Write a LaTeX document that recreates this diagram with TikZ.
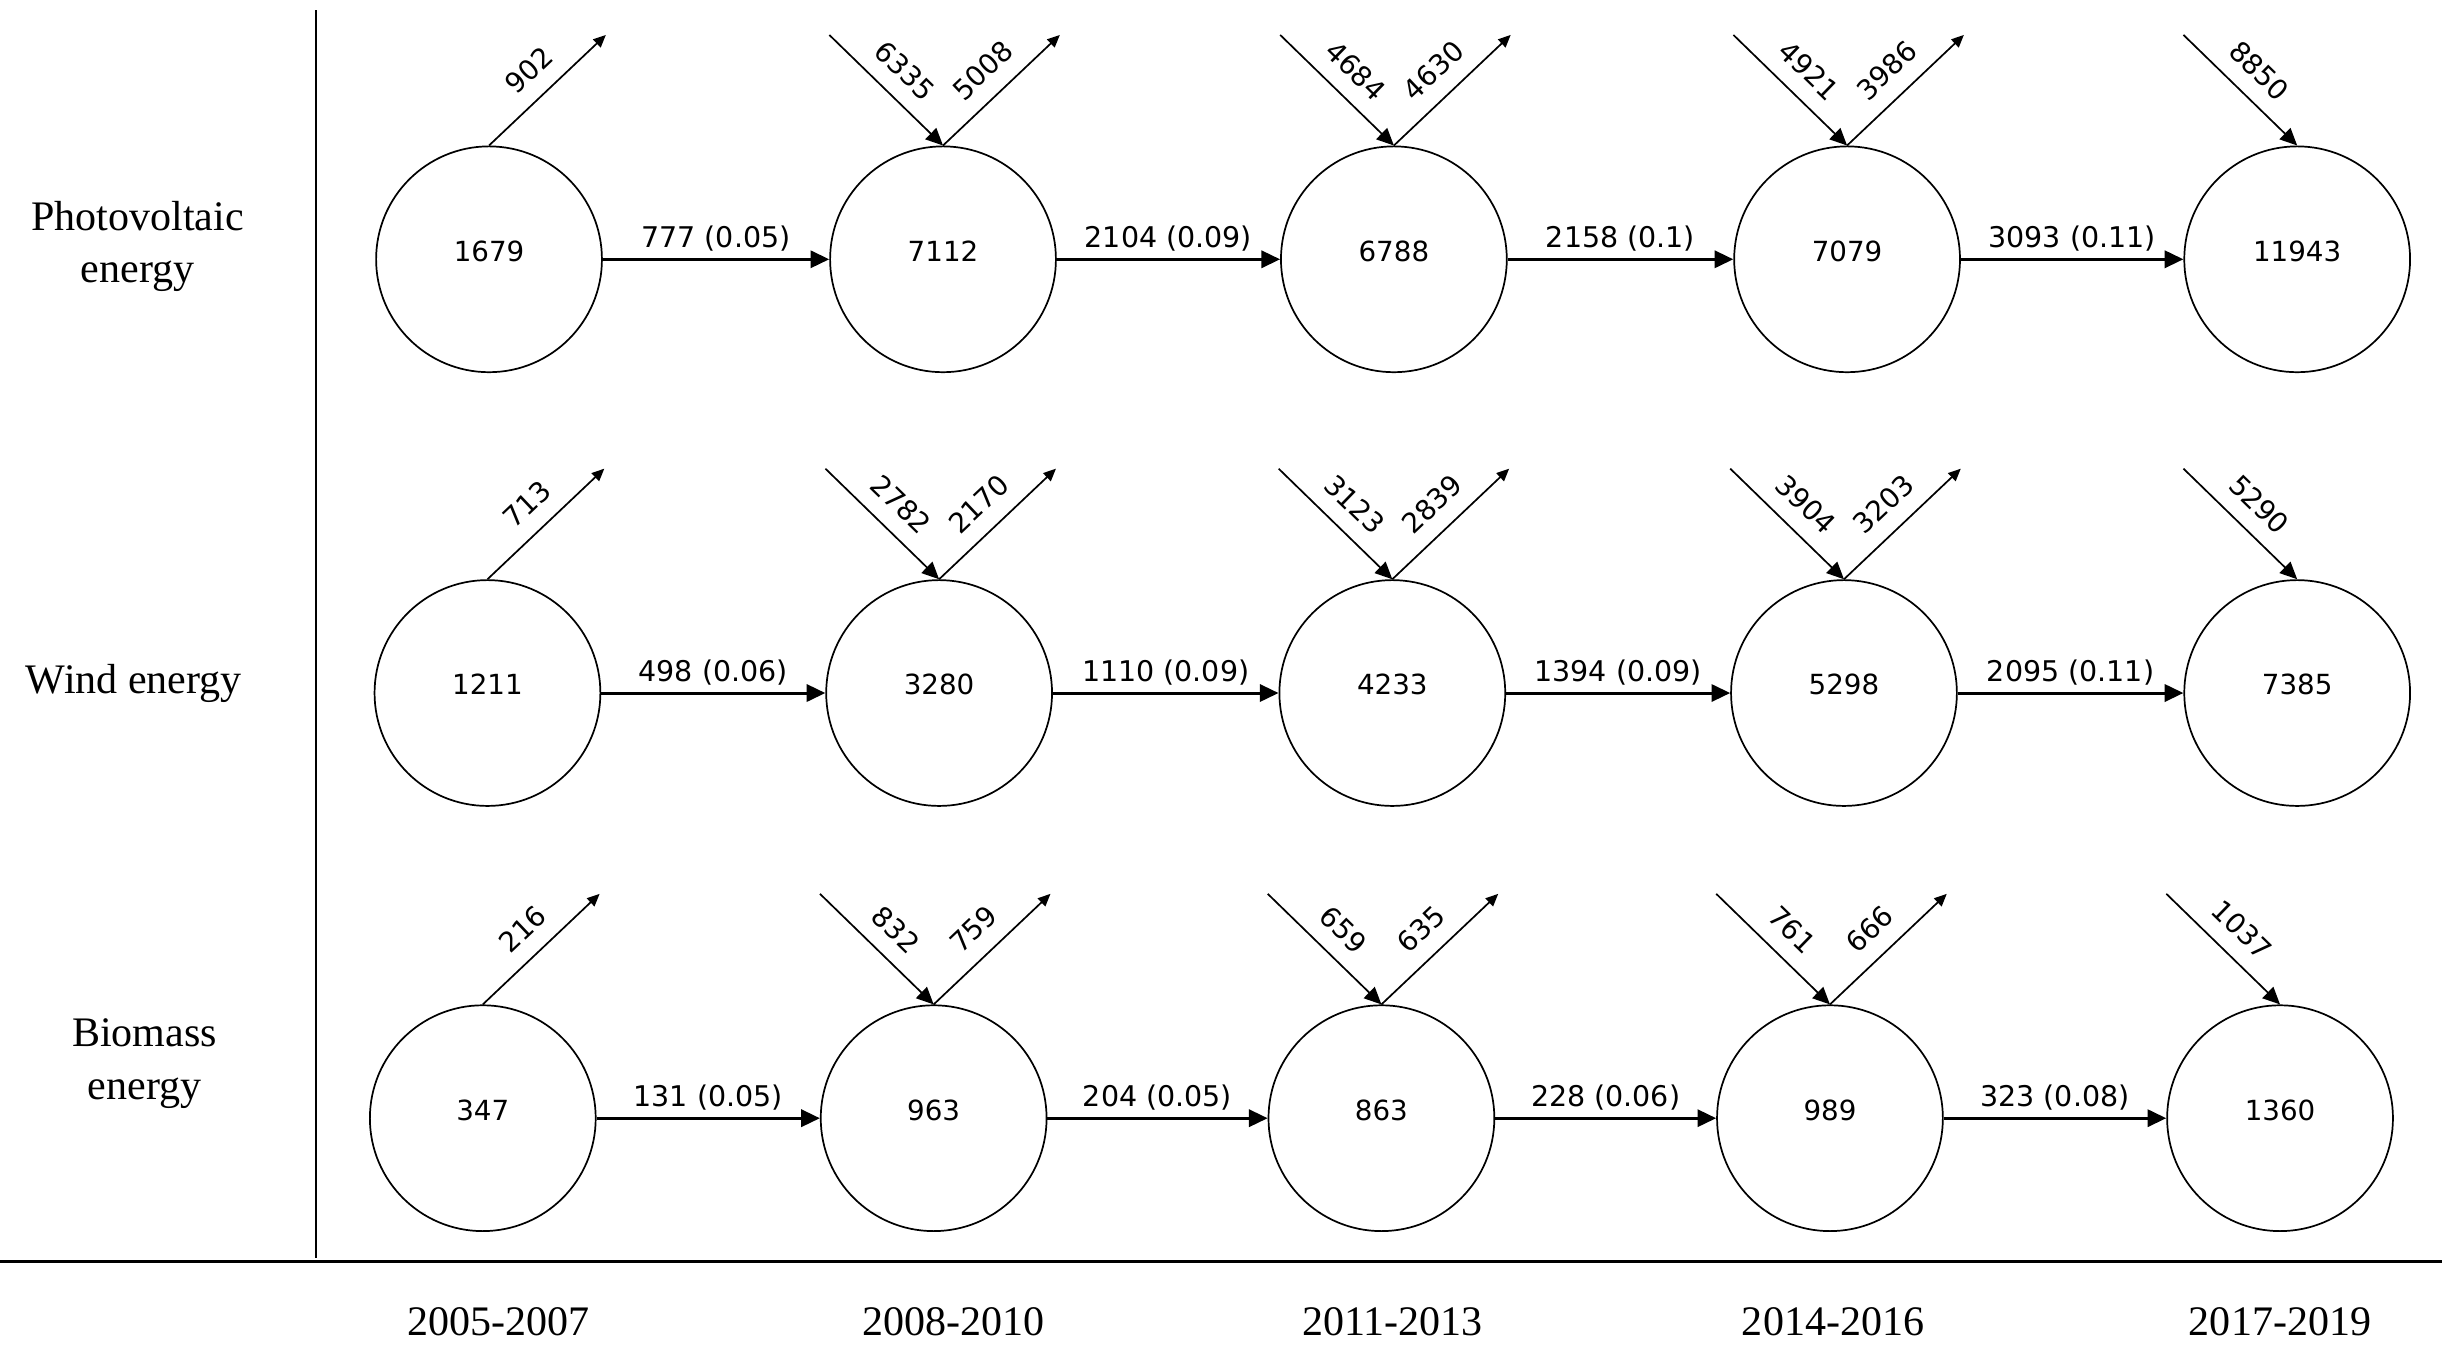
\documentclass[tikz,border=0pt]{standalone}
\usepackage{fontspec}
\setmainfont{Liberation Serif}
\newfontfamily\numfont{DejaVu Sans}
\usetikzlibrary{arrows.meta}
\begin{document}
\begin{tikzpicture}[x=1pt,y=1pt,
  st/.style={circle,draw,line width=1.1pt,minimum size=145pt,inner sep=0pt,
    font=\numfont\fontsize{17.8}{20}\selectfont,text height=13pt,text depth=10.5pt},
  harrow/.style={line width=1.9pt,-{Triangle[length=12pt,width=11pt]}},
  inarrow/.style={line width=1.1pt,-{Triangle[length=11pt,width=10pt]}},
  outarrow/.style={line width=1.1pt,-{Triangle[length=8pt,width=7pt]}},
  hflow/.style={font=\numfont\fontsize{18.3}{20}\selectfont,inner sep=4.3pt,above},
  dflow/.style={font=\numfont\fontsize{17.8}{20}\selectfont,inner sep=10.2pt,sloped,above},
  rowlbl/.style={font=\fontsize{27}{33.5}\selectfont,align=center},
  yearlbl/.style={font=\fontsize{27}{32}\selectfont}
]
\useasboundingbox (0,0) rectangle (1568,866);

% axes
\coordinate (vt) at (203,859.5);
\coordinate (vb) at (203,58);
\coordinate (hl) at (0,56);
\coordinate (hr) at (1568,56);
\draw[line width=1.3pt] (vt) -- (vb);
\draw[line width=2.5pt] (hl) -- (hr);

% row labels
\node[rowlbl] (pv) at (88.3,707.5) {Photovoltaic\\energy};
\node[rowlbl] (wind) at (86,427.2) {Wind energy};
\node[rowlbl] (bio) at (92.8,183) {Biomass\\energy};

% years
\node[yearlbl] (y1) at (320.3,17.5) {2005-2007};
\node[yearlbl] (y2) at (612.2,17.5) {2008-2010};
\node[yearlbl] (y3) at (894,17.5) {2011-2013};
\node[yearlbl] (y4) at (1177,17.5) {2014-2016};
\node[yearlbl] (y5) at (1464,17.5) {2017-2019};

% states
\node[st] (a1) at (314,699.5) {1679};
\node[st] (a2) at (605.5,699.5) {7112};
\node[st] (a3) at (895,699.5) {6788};
\node[st] (a4) at (1186,699.5) {7079};
\node[st] (a5) at (1475,699.5) {11943};

\node[st] (b1) at (313,421) {1211};
\node[st] (b2) at (603,421) {3280};
\node[st] (b3) at (894,421) {4233};
\node[st] (b4) at (1184,421) {5298};
\node[st] (b5) at (1475,421) {7385};

\node[st] (c1) at (310,148) {347};
\node[st] (c2) at (599.5,148) {963};
\node[st] (c3) at (887,148) {863};
\node[st] (c4) at (1175,148) {989};
\node[st] (c5) at (1464,148) {1360};

% free ends of the diagonal arrows
\foreach \n in {a1,a2,a3,a4,b1,b2,b3,b4,c1,c2,c3,c4}
  \path (\n.north) ++(75,71) coordinate (\n-o);
\foreach \n in {a2,a3,a4,a5,b2,b3,b4,b5,c2,c3,c4,c5}
  \path (\n.north) ++(-73,71) coordinate (\n-i);

% horizontal transitions
\draw[harrow] (a1.east) -- node[hflow]{777 (0.05)} (a2.west);
\draw[harrow] (a2.east) -- node[hflow]{2104 (0.09)} (a3.west);
\draw[harrow] (a3.east) -- node[hflow]{2158 (0.1)} (a4.west);
\draw[harrow] (a4.east) -- node[hflow]{3093 (0.11)} (a5.west);

\draw[harrow] (b1.east) -- node[hflow]{498 (0.06)} (b2.west);
\draw[harrow] (b2.east) -- node[hflow]{1110 (0.09)} (b3.west);
\draw[harrow] (b3.east) -- node[hflow]{1394 (0.09)} (b4.west);
\draw[harrow] (b4.east) -- node[hflow]{2095 (0.11)} (b5.west);

\draw[harrow] (c1.east) -- node[hflow]{131 (0.05)} (c2.west);
\draw[harrow] (c2.east) -- node[hflow]{204 (0.05)} (c3.west);
\draw[harrow] (c3.east) -- node[hflow]{228 (0.06)} (c4.west);
\draw[harrow] (c4.east) -- node[hflow]{323 (0.08)} (c5.west);

% outflows
\draw[outarrow] (a1.north) -- node[dflow]{902} (a1-o);
\draw[outarrow] (a2.north) -- node[dflow]{5008} (a2-o);
\draw[outarrow] (a3.north) -- node[dflow]{4630} (a3-o);
\draw[outarrow] (a4.north) -- node[dflow]{3986} (a4-o);

\draw[outarrow] (b1.north) -- node[dflow]{713} (b1-o);
\draw[outarrow] (b2.north) -- node[dflow]{2170} (b2-o);
\draw[outarrow] (b3.north) -- node[dflow]{2839} (b3-o);
\draw[outarrow] (b4.north) -- node[dflow]{3203} (b4-o);

\draw[outarrow] (c1.north) -- node[dflow]{216} (c1-o);
\draw[outarrow] (c2.north) -- node[dflow]{759} (c2-o);
\draw[outarrow] (c3.north) -- node[dflow]{635} (c3-o);
\draw[outarrow] (c4.north) -- node[dflow]{666} (c4-o);

% inflows
\draw[inarrow] (a2-i) -- node[dflow]{6335} (a2.north);
\draw[inarrow] (a3-i) -- node[dflow]{4684} (a3.north);
\draw[inarrow] (a4-i) -- node[dflow]{4921} (a4.north);
\draw[inarrow] (a5-i) -- node[dflow]{8850} (a5.north);

\draw[inarrow] (b2-i) -- node[dflow]{2782} (b2.north);
\draw[inarrow] (b3-i) -- node[dflow]{3123} (b3.north);
\draw[inarrow] (b4-i) -- node[dflow]{3904} (b4.north);
\draw[inarrow] (b5-i) -- node[dflow]{5290} (b5.north);

\draw[inarrow] (c2-i) -- node[dflow]{832} (c2.north);
\draw[inarrow] (c3-i) -- node[dflow]{659} (c3.north);
\draw[inarrow] (c4-i) -- node[dflow]{761} (c4.north);
\draw[inarrow] (c5-i) -- node[dflow]{1037} (c5.north);
\end{tikzpicture}
\end{document}
